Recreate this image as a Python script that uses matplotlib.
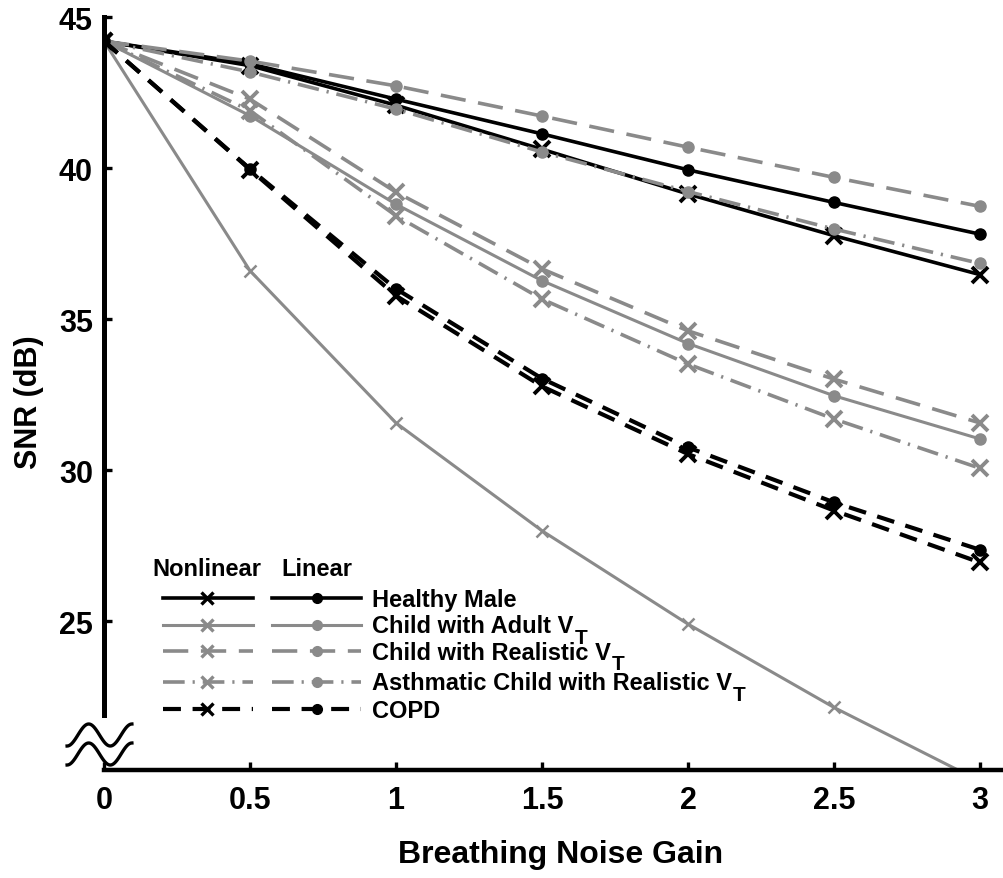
import numpy as np
import matplotlib
matplotlib.use("Agg")
import matplotlib.pyplot as plt
from matplotlib.lines import Line2D

plt.rcParams['font.family'] = ['Liberation Sans', 'DejaVu Sans']
plt.rcParams['font.weight'] = 'bold'

# Breathing noise gain
gain = [0, 0.5, 1, 1.5, 2, 2.5, 3]

# SNR (dB)
healthy_nl = [44.2, 43.39, 42.08, 40.62, 39.14, 37.76, 36.47]
healthy_lin = [44.2, 43.45, 42.28, 41.13, 39.94, 38.86, 37.81]
child_adult_nl = [44.2, 36.6, 31.56, 27.99, 24.9, 22.14, 19.7]
child_adult_lin = [44.2, 41.73, 38.8, 36.27, 34.19, 32.46, 31.03]
child_real_nl = [44.2, 42.28, 39.2, 36.66, 34.61, 33.01, 31.56]
child_real_lin = [44.2, 43.54, 42.72, 41.72, 40.69, 39.69, 38.73]
asthma_nl = [44.2, 41.9, 38.42, 35.66, 33.51, 31.69, 30.06]
asthma_lin = [44.2, 43.18, 41.95, 40.53, 39.22, 37.98, 36.84]
copd_nl = [44.2, 39.95, 35.77, 32.77, 30.53, 28.66, 26.94]
copd_lin = [44.2, 39.97, 36.0, 33.03, 30.75, 28.93, 27.36]

# legend labels (main text, subscript)
labels = [('Healthy Male', ''), ('Child with Adult V', 'T'),
          ('Child with Realistic V', 'T'),
          ('Asthmatic Child with Realistic V', 'T'), ('COPD', '')]

gray = '#8a8a8a'
dash = (0, (7, 3.5))
dashdot = (0, (6, 2.2, 0.6, 2.2))
copd_dash = (0, (4.3, 2.8))

# style per group: color, linestyle, linewidth
styles = [
    dict(color='black', linestyle='-', linewidth=2.6),
    dict(color=gray, linestyle='-', linewidth=2.2),
    dict(color=gray, linestyle=dash, linewidth=2.6),
    dict(color=gray, linestyle=dashdot, linewidth=2.6),
    dict(color='black', linestyle=copd_dash, linewidth=3.0),
]
nl_series = [healthy_nl, child_adult_nl, child_real_nl, asthma_nl, copd_nl]
lin_series = [healthy_lin, child_adult_lin, child_real_lin, asthma_lin, copd_lin]

fig = plt.figure(figsize=(10.04, 8.79), dpi=100)
ax = fig.add_axes([104/1004, 1 - 771/879, 900/1004, 753/879])

for i in range(5):
    st = styles[i]
    ax.plot(gain, lin_series[i], marker='o', markersize=8, **st)
    msz = 9 if i == 1 else 11
    mew = 1.8 if i == 1 else 2.8
    ax.plot(gain, nl_series[i], marker='x', markersize=msz, markeredgewidth=mew, **st)

ax.set_xlim(0, 3.082)
ax.set_ylim(20.07, 45)
ax.set_xticks(gain)
ax.set_xticklabels(['0', '0.5', '1', '1.5', '2', '2.5', '3'])
ax.set_yticks([25, 30, 35, 40, 45])

for s in ['top', 'right']:
    ax.spines[s].set_visible(False)
ax.spines['left'].set_linewidth(3.6)
ax.spines['bottom'].set_linewidth(3.2)
ax.spines['left'].set_bounds(21.9, 45)
ax.tick_params(axis='both', direction='in', length=6, width=2.4, labelsize=22)
ax.tick_params(axis='y', pad=8)
ax.tick_params(axis='x', pad=11)
for lab in ax.get_xticklabels() + ax.get_yticklabels():
    lab.set_fontweight('bold')

ax.set_xlabel('Breathing Noise Gain', fontsize=23, fontweight='bold', va='top')
ax.xaxis.set_label_coords(0.507, -0.092)
ax.set_ylabel('SNR (dB)', fontsize=22, fontweight='bold')
ax.yaxis.set_label_coords(-0.067, 0.49)

# axis break symbol
t = np.linspace(0, 1, 100)
bx = (-0.041 + 0.072 * t)
for c in [(771 - 736) / 753, (771 - 755) / 753]:
    by = c - (11 / 753) * np.cos(3 * np.pi * t)
    ax.plot(bx, by, color='black', linewidth=2.4, transform=ax.transAxes, clip_on=False)

# custom legend
ax.text(0.0533, 0.267, 'Nonlinear', fontsize=17, fontweight='bold', va='center',
        transform=ax.transAxes)
ax.text(0.1967, 0.267, 'Linear', fontsize=17, fontweight='bold', va='center',
        transform=ax.transAxes)
rows = [0.2284, 0.1926, 0.158, 0.1169, 0.081]
texts = []
for i in range(5):
    st = styles[i]
    y = rows[i]
    ax.add_line(Line2D([0.0656, 0.1656], [y, y], transform=ax.transAxes, **st))
    ax.add_line(Line2D([0.1144], [y], transform=ax.transAxes, marker='x',
                       markersize=9, markeredgewidth=2.4, color=st['color'], linestyle='none'))
    ax.add_line(Line2D([0.1867, 0.2856], [y, y], transform=ax.transAxes, **st))
    ax.add_line(Line2D([0.2367], [y], transform=ax.transAxes, marker='o',
                       markersize=7, color=st['color'], linestyle='none'))
    tx = ax.text(0.2978, y - 7.5 / 753, labels[i][0], fontsize=17, fontweight='bold',
                 va='baseline', transform=ax.transAxes)
    texts.append(tx)

# subscripts placed right after the main text
fig.canvas.draw()
r = fig.canvas.get_renderer()
for i in range(5):
    if labels[i][1]:
        bb = texts[i].get_window_extent(renderer=r)
        x_end = ax.transAxes.inverted().transform((bb.x1, bb.y0))[0]
        ax.text(x_end + 0.001, rows[i] - 18 / 753, labels[i][1], fontsize=15,
                fontweight='bold', va='baseline', transform=ax.transAxes)

fig.savefig('out.png', dpi=100)
